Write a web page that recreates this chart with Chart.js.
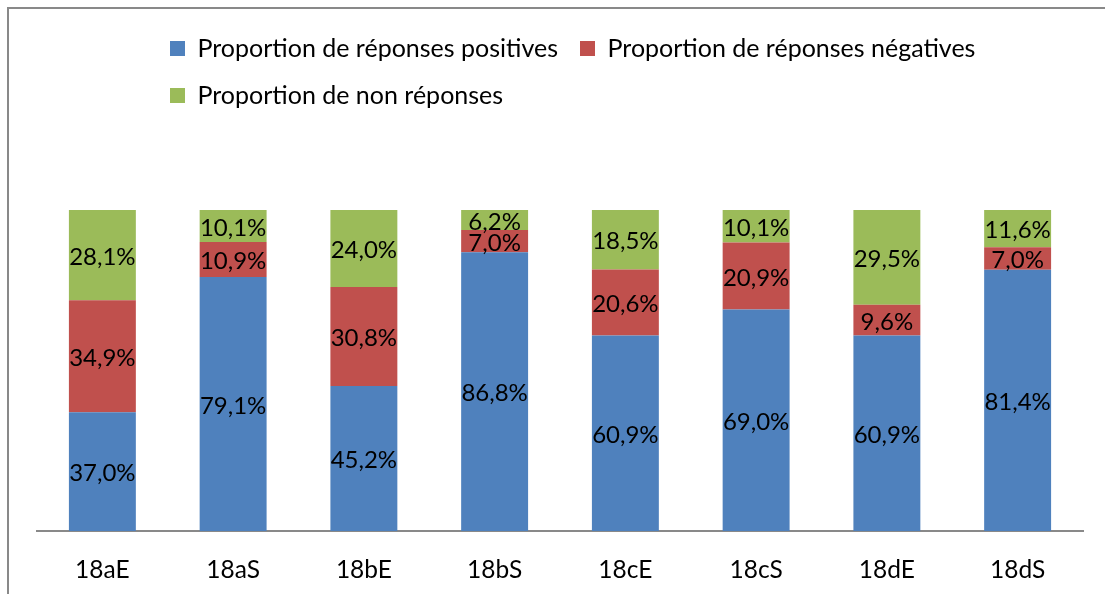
<!DOCTYPE html>
<html>
<head>
<meta charset="utf-8">
<title>Proportion de réponses</title>
<script src="https://cdn.jsdelivr.net/npm/chart.js@4/dist/chart.umd.min.js"></script>
<style>
  html, body { margin: 0; padding: 0; background: #fff; overflow: hidden; }
  #frame {
    position: absolute; left: 7px; top: 7px;
    width: 2000px; height: 2000px;
    border-left: 2px solid #898989; border-top: 2px solid #898989;
  }
  #wrap { position: absolute; left: 0; top: 0; width: 1105px; height: 594px; }
</style>
</head>
<body>
<div id="frame"></div>
<div id="wrap"><canvas id="myBarChart"></canvas></div>
<script>
// categories and series (percent values)
const categories = ["18aE", "18aS", "18bE", "18bS", "18cE", "18cS", "18dE", "18dS"];
const positives = [37.0, 79.1, 45.2, 86.8, 60.9, 69.0, 60.9, 81.4];
const negatives = [34.9, 10.9, 30.8, 7.0, 20.6, 20.9, 9.6, 7.0];
const nonReponses = [28.1, 10.1, 24.0, 6.2, 18.5, 10.1, 29.5, 11.6];

const seriesNames = [
  "Proportion de réponses positives",
  "Proportion de réponses négatives",
  "Proportion de non réponses"
];

const FONT = "Lato";

// value labels in the middle of each segment
const segmentLabels = {
  id: "segmentLabels",
  afterDatasetsDraw(chart) {
    const ctx = chart.ctx;
    ctx.save();
    ctx.font = "24px " + FONT;
    ctx.fillStyle = "#000";
    ctx.textAlign = "center";
    ctx.textBaseline = "middle";
    chart.data.datasets.forEach(function (ds, i) {
      const meta = chart.getDatasetMeta(i);
      meta.data.forEach(function (bar, j) {
        const p = bar.getProps(["x", "y", "base"], true);
        const text = ds.data[j].toFixed(1).replace(".", ",") + "%";
        ctx.fillText(text, p.x, (p.y + p.base) / 2 + 2);
      });
    });
    ctx.restore();
  }
};

// legend: left aligned rows starting near x=170, extra room under it
const legendPlacement = {
  id: "legendPlacement",
  beforeInit(chart) {
    const fit = chart.legend.fit;
    chart.legend.fit = function () {
      fit.bind(chart.legend)();
      this.height = 210 - 14;
    };
  },
  afterLayout(chart) {
    const padding = chart.legend.options.labels.padding;
    chart.legend.left = 170 - padding;
    chart.legend.right = 1090;
  }
};

function setupBarChart() {
  var canvas = document.getElementById("myBarChart");
  var ctx = canvas.getContext("2d");

  return new Chart(ctx, {
    type: "bar",
    data: {
      labels: categories,
      datasets: [
        { label: seriesNames[0], data: positives, backgroundColor: "#4F81BD" },
        { label: seriesNames[1], data: negatives, backgroundColor: "#C0504D" },
        { label: seriesNames[2], data: nonReponses, backgroundColor: "#9BBB59" }
      ]
    },
    options: {
      responsive: true,
      maintainAspectRatio: false,
      animation: false,
      datasets: {
        bar: { barPercentage: 0.512, categoryPercentage: 1, borderWidth: 0 }
      },
      layout: { padding: { top: 14, left: 37, right: 22, bottom: 0 } },
      scales: {
        x: {
          stacked: true,
          grid: { display: false, drawTicks: false },
          border: { display: true, color: "#898989", width: 2 },
          ticks: { color: "#000", font: { family: FONT, size: 24.5 }, padding: 24 },
          afterFit: function (scale) { scale.height = 63; }
        },
        y: {
          stacked: true,
          display: false,
          min: 0,
          max: 100
        }
      },
      plugins: {
        tooltip: { enabled: false },
        legend: {
          position: "top",
          align: "start",
          labels: {
            color: "#000",
            font: { family: FONT, size: 25 },
            boxWidth: 15,
            boxHeight: 15,
            padding: 22
          }
        }
      }
    },
    plugins: [segmentLabels, legendPlacement]
  });
}

const myBarChart = setupBarChart();
</script>
</body>
</html>
